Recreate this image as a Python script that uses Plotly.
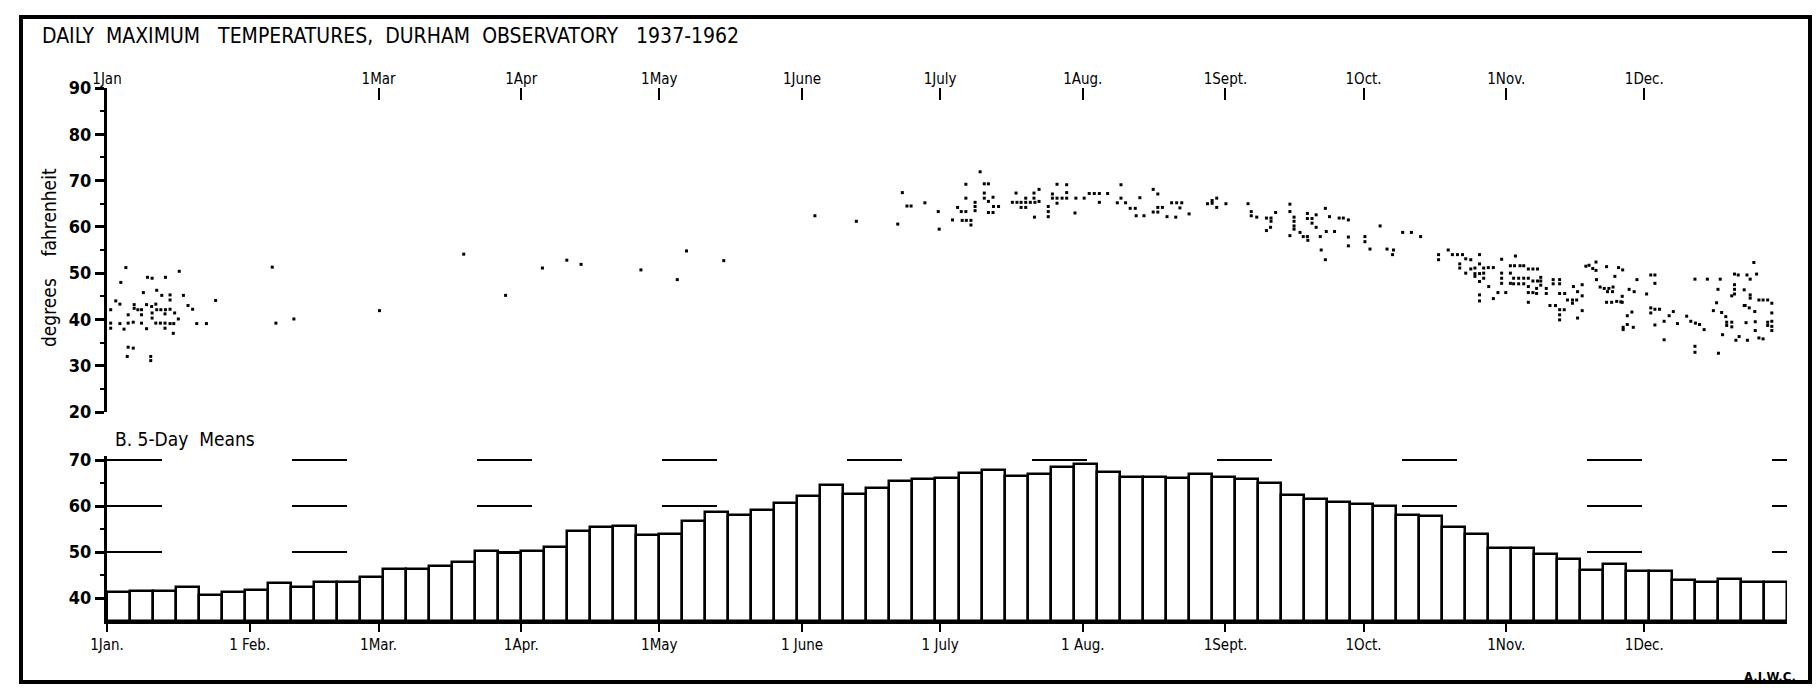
import plotly.graph_objects as go

W, H = 1820, 691
FONT = "Liberation Sans Narrow, DejaVu Sans Condensed, Arial Narrow, sans-serif"

# ---------------- data ----------------
MONTH_DAYS = [0, 31, 59, 90, 120, 151, 181, 212, 243, 273, 304, 334]
TOP_MONTH_LABELS = ["1Jan", None, "1Mar", "1Apr", "1May", "1June", "1July", "1Aug.",
                    "1Sept.", "1Oct.", "1Nov.", "1Dec."]
BOTTOM_MONTH_LABELS = ["1Jan.", "1 Feb.", "1Mar.", "1Apr.", "1May", "1 June", "1 July",
                       "1 Aug.", "1Sept.", "1Oct.", "1Nov.", "1Dec."]

FIVE_DAY_MEANS = [41.4, 41.6, 41.6, 42.5, 40.7, 41.4, 41.8, 43.2, 42.5, 43.4, 43.4, 44.5,
                  46.4, 46.4, 47.0, 47.8, 50.2, 49.7, 50.3, 51.1, 54.6, 55.4, 55.6, 53.7,
                  54.0, 56.8, 58.8, 58.1, 59.1, 60.6, 62.1, 64.6, 62.7, 63.9, 65.4, 66.0,
                  66.1, 67.3, 67.8, 66.6, 67.0, 68.6, 69.1, 67.4, 66.3, 66.3, 66.1, 67.0,
                  66.3, 66.0, 65.1, 62.5, 61.5, 61.0, 60.5, 60.0, 58.0, 57.9, 55.5, 54.0,
                  50.8, 50.8, 49.6, 48.4, 46.0, 47.3, 45.8, 45.8, 43.9, 43.5, 44.1, 43.5, 43.5]
PERIOD_DAYS = 5

DAY = [4.1, 3.0, 8.8, 9.8, 12.7, 15.7, 7.9, 10.8, 11.9, 13.7, 16.6, 13.7, 1.9, 2.8, 0.8,
       5.9, 5.9, 6.7, 7.5, 7.5, 8.6, 9.7, 10.6, 9.8, 9.8, 10.8, 11.7, 12.7, 13.7, 12.6,
       14.7, 15.5, 17.6, 18.6, 4.6, 4.6, 5.7, 0.8, 2.8, 0.8, 3.7, 7.5, 8.6, 10.6, 11.6,
       12.6, 13.7, 14.5, 12.6, 14.4, 19.5, 21.6, 4.6, 5.7, 4.4, 9.5, 9.5, 23.6, 35.9, 36.7,
       40.6, 59.2, 77.5, 86.6,
       94.6, 99.9, 103.0, 116.0, 123.9, 125.9, 134.0, 153.8, 162.8, 171.8, 172.8, 173.8,
       174.7, 177.7, 180.6, 180.8,
       183.7, 184.8, 185.6, 186.6, 185.8, 186.7, 187.7, 187.7, 186.6, 186.6, 188.6, 188.6,
       188.6, 189.7, 190.6, 191.5, 190.6, 190.6, 191.5, 192.5, 192.6, 193.7, 191.5, 192.5,
       197.5, 196.7, 197.7, 198.6, 199.6, 200.6, 201.6, 198.6, 199.6, 199.6, 201.4, 201.4,
       202.5, 202.5, 201.5, 204.5, 204.5, 204.5, 205.4, 205.4, 206.4, 207.5, 208.5, 210.5,
       206.4, 208.5, 208.5, 206.4, 210.3, 212.3, 213.4, 214.5, 215.6, 217.4, 215.6, 220.3,
       219.5, 221.3, 220.3, 222.3, 223.4, 223.6, 225.3, 224.4, 227.3, 228.3, 228.3, 229.3,
       227.3, 228.3, 230.3, 231.3, 232.4, 233.5, 232.2, 233.1, 235.1, 239.1, 240.1, 241.1,
       240.1, 241.1, 243.1, 247.9, 248.6, 248.6, 249.8, 251.9, 252.8, 251.9, 252.9, 252.9,
       253.9, 257.0, 257.0, 257.0, 257.9, 257.9, 257.9, 257.9, 259.2, 259.9, 260.8, 260.8,
       260.8, 260.9, 261.8, 261.8, 262.7, 262.7, 263.6, 263.8, 264.7, 264.7, 265.6, 264.9,
       266.7, 267.7, 268.6, 269.7, 269.7, 269.7,
       273.3, 273.3, 274.4, 276.6, 278.1, 279.5, 279.3, 281.5, 283.4, 285.4, 289.3, 289.3,
       291.4, 292.3, 293.4, 294.5, 293.9, 293.9, 295.2, 296.3, 295.2, 296.3, 297.2, 297.2,
       297.2, 298.2, 298.2, 298.2, 298.2, 299.1, 299.1, 300.1, 301.2, 300.2, 299.1, 298.2,
       298.2, 301.2, 303.0, 303.0, 303.0, 303.0, 302.2, 303.9, 304.9, 304.9, 304.9, 306.0,
       305.8, 307.0, 307.8, 305.6, 306.7, 307.8, 308.8, 305.6, 306.7, 307.8, 308.8, 309.8,
       310.8, 308.8, 308.8, 309.8, 308.8, 309.8, 310.8, 310.6, 310.6, 311.5, 311.5, 311.5,
       312.7, 312.7, 314.2, 314.2, 315.6, 315.6, 313.5, 314.7, 315.6, 316.7, 315.6, 315.6,
       316.6, 315.6, 317.3, 318.4, 318.4, 319.3, 318.6, 319.5, 319.5, 320.5, 320.5, 320.5,
       321.3, 322.0, 322.8, 323.5, 323.5, 323.6, 324.4, 325.3, 326.3, 327.2, 326.0, 327.1,
       325.8, 327.6, 328.4, 329.3, 325.8, 326.9, 328.0, 328.9, 329.2, 329.2, 329.4, 329.4,
       331.6, 330.3, 330.3, 330.7, 331.8, 331.3, 332.4, 334.5, 335.4, 336.3, 336.3, 335.4,
       335.4, 336.3, 337.3, 336.3, 338.3, 338.3, 339.4, 340.3, 341.2, 343.2, 344.1, 345.1,
       346.0, 347.0, 345.0, 345.0, 345.0, 347.7, 350.5, 350.0, 350.1, 349.7, 349.0, 350.8,
       351.7, 351.0, 351.9, 353.0, 351.9, 353.0, 353.0, 353.6, 354.4, 356.3, 358.4, 353.6,
       353.6, 353.6, 357.0, 355.7, 357.0, 357.0, 357.8, 355.9, 356.8, 358.0, 356.1, 358.1,
       358.1, 353.9, 354.6, 356.4, 358.9, 359.8, 360.8, 361.7, 361.7, 361.7, 361.7, 360.8,
       360.8, 358.9, 359.8, 361.7, 355.7]
TEMP = [51.2, 48.0, 49.1, 48.9, 49.1, 50.4, 45.8, 46.3, 45.2, 45.3, 45.2, 44.2, 44.0, 43.3,
        42.1, 43.2, 42.4, 42.1, 42.1, 41.0, 43.2, 42.8, 43.3, 41.4, 40.3, 42.1, 42.1, 42.1,
        42.2, 41.2, 41.4, 40.1, 43.0, 42.2, 41.0, 39.2, 39.4, 39.2, 39.1, 38.1, 37.9, 39.2,
        38.0, 39.2, 39.2, 39.2, 39.1, 39.1, 38.1, 37.0, 39.1, 39.1, 34.0, 33.8, 32.0, 32.0,
        31.1, 44.1, 51.3, 39.2, 40.1, 41.9, 54.1, 45.2,
        51.1, 52.8, 51.9, 50.7, 48.6, 54.8, 52.7, 62.4, 61.2, 60.6, 67.4, 64.5, 64.5, 65.2,
        63.3, 59.5,
        61.5, 64.2, 63.3, 63.3, 61.4, 61.4, 61.4, 60.4, 66.2, 69.2, 65.3, 64.4, 63.5, 71.9,
        69.3, 69.3, 67.3, 66.2, 65.5, 66.4, 64.4, 64.4, 63.1, 63.1, 67.3, 65.3, 65.3, 65.3,
        65.3, 65.3, 65.3, 64.2, 64.2, 66.2, 67.3, 66.2, 68.1, 65.5, 62.1, 64.4, 63.3, 62.2,
        67.1, 66.2, 66.2, 66.2, 66.2, 66.2, 69.2, 69.1, 67.4, 65.1, 63.0, 66.2, 67.2, 67.2,
        67.2, 67.2, 65.3, 69.1, 65.2, 65.2, 66.2, 64.0, 64.0, 62.4, 62.4, 66.3, 68.1, 67.1,
        64.2, 64.2, 63.2, 63.2, 62.2, 65.2, 65.2, 65.2, 62.1, 64.1, 62.8, 65.0, 65.7, 66.2,
        65.1, 64.2, 65.0, 65.0, 63.3, 62.4, 62.1, 61.9, 59.9, 59.2, 61.9, 61.2, 63.1, 64.9,
        63.3, 58.1, 62.1, 61.2, 60.2, 59.5, 58.8, 57.9, 57.9, 62.9, 61.8, 57.1, 61.8, 60.8,
        62.6, 59.9, 57.9, 55.0, 64.0, 52.9, 62.2, 59.0, 59.0, 61.9, 61.9, 61.5, 57.8, 55.9,
        57.9, 56.8, 55.2, 60.2, 55.2, 55.0, 54.0, 58.8, 58.8, 57.9, 54.0, 52.9, 55.0, 54.0,
        54.0, 54.0, 52.0, 51.1, 53.1, 52.9, 50.0, 50.9, 51.1, 49.9, 49.3, 54.0, 52.0, 49.9,
        48.2, 51.1, 50.0, 51.2, 51.2, 47.1, 48.9, 45.3, 44.0, 44.5, 53.0, 50.0, 48.9, 47.8,
        45.8, 45.8, 51.6, 50.0, 47.8, 53.7, 51.6, 51.6, 51.6, 48.9, 48.9, 48.9, 48.9, 47.7,
        47.7, 47.7, 50.9, 50.9, 50.9, 47.1, 45.8, 45.8, 43.7, 48.3, 48.3, 45.6, 46.7, 49.1,
        48.3, 47.4, 46.7, 45.6, 48.6, 47.7, 48.6, 47.7, 43.0, 43.0, 45.6, 45.6, 42.1, 41.0,
        42.1, 39.9, 44.2, 44.2, 43.5, 44.2, 47.1, 46.0, 40.3, 47.5, 45.1, 41.9, 51.5, 51.7,
        51.0, 52.4, 50.6, 48.6, 47.0, 46.7, 46.7, 47.0, 46.0, 46.0, 51.4, 49.3, 51.2, 50.7,
        43.7, 43.7, 43.9, 43.8, 45.0, 43.7, 38.3, 37.8, 38.3, 40.8, 38.9, 46.5, 46.0, 41.6,
        48.6, 45.5, 49.6, 49.6, 47.8, 42.5, 41.4, 42.2, 42.2, 38.8, 39.6, 35.6, 40.8, 41.7,
        39.1, 40.7, 39.6, 39.2, 38.9, 37.8, 34.2, 32.9, 48.7, 48.7, 48.7, 46.5, 32.7, 43.6,
        41.9, 41.5, 40.6, 36.7, 39.4, 39.4, 38.7, 38.4, 45.1, 49.8, 49.6, 49.6, 49.8, 47.5,
        46.5, 45.5, 48.7, 46.4, 45.3, 44.6, 52.3, 43.0, 42.5, 41.7, 39.3, 39.5, 37.6, 35.5,
        36.3, 35.5, 36.0, 35.8, 44.2, 43.5, 41.4, 39.6, 38.5, 39.4, 38.7, 44.2, 44.2, 37.6,
        43.0]

# ---------------- helpers for layout (pixel -> paper) ----------------
def px(x):
    return x / W

def py(y):
    return 1 - y / H

X_DOM = [px(107), px(1787)]

bar_x = [PERIOD_DAYS * i + PERIOD_DAYS / 2 for i in range(len(FIVE_DAY_MEANS))]
bar_base = 35

fig = go.Figure()

fig.add_trace(go.Scatter(
    x=DAY, y=TEMP, mode="markers",
    marker=dict(symbol="square", size=3, color="black", line=dict(width=0)),
    xaxis="x", yaxis="y", hoverinfo="x+y", showlegend=False))

fig.add_trace(go.Bar(
    x=bar_x, y=[v - bar_base for v in FIVE_DAY_MEANS], base=bar_base,
    width=PERIOD_DAYS,
    marker=dict(color="white", line=dict(color="black", width=2.5)),
    xaxis="x2", yaxis="y2", showlegend=False,
    customdata=FIVE_DAY_MEANS, hovertemplate="%{customdata}<extra></extra>"))

top_vals = [d for d, t in zip(MONTH_DAYS, TOP_MONTH_LABELS) if t]
top_text = [t for t in TOP_MONTH_LABELS if t]

tickfont = dict(family=FONT, size=15, color="black")
numfont = dict(family=FONT, size=18, color="black", weight=700)

fig.update_layout(
    width=W, height=H,
    margin=dict(l=0, r=0, t=0, b=0, autoexpand=False),
    paper_bgcolor="white", plot_bgcolor="rgba(0,0,0,0)",
    bargap=0,
    xaxis=dict(domain=X_DOM, range=[0, 365], anchor="y", side="top", automargin=False,
               tickmode="array", tickvals=top_vals, ticktext=top_text,
               ticks="inside", ticklen=12, tickwidth=2, tickcolor="black",
               showline=False, showgrid=False, zeroline=False,
               tickfont=dict(family=FONT, size=15, color="black")),
    yaxis=dict(domain=[py(412), py(88)], range=[20, 90], anchor="x", automargin=False,
               tickmode="linear", tick0=20, dtick=10,
               ticks="outside", ticklen=9, tickwidth=2.5, tickcolor="black",
               minor=dict(dtick=5, tick0=20, ticks="outside", ticklen=4, tickwidth=2,
                          tickcolor="black", showgrid=False),
               showline=True, linewidth=3, linecolor="black",
               showgrid=False, zeroline=False, tickfont=numfont),
    xaxis2=dict(domain=X_DOM, range=[0, 365], anchor="y2", automargin=False,
                tickmode="array", tickvals=MONTH_DAYS, ticktext=BOTTOM_MONTH_LABELS,
                ticks="outside", ticklen=8, tickwidth=2, tickcolor="black",
                showline=True, linewidth=3, linecolor="black",
                showgrid=False, zeroline=False, tickfont=tickfont),
    yaxis2=dict(domain=[py(621), py(456)], range=[35, 70.9], anchor="x2", automargin=False,
                tickmode="array", tickvals=[40, 50, 60, 70],
                ticks="outside", ticklen=9, tickwidth=2.5, tickcolor="black",
                minor=dict(tickvals=[45, 55, 65], ticks="outside", ticklen=4,
                           tickwidth=2, tickcolor="black", showgrid=False),
                showline=True, linewidth=3, linecolor="black",
                showgrid=True, gridcolor="black", gridwidth=1.5, griddash="55px,130px",
                zeroline=False, tickfont=numfont),
)

fig.add_annotation(xref="paper", yref="paper", x=px(40), y=py(36),
                   xanchor="left", yanchor="middle", showarrow=False,
                   text="DAILY  MAXIMUM   TEMPERATURES,  DURHAM  OBSERVATORY   1937-1962",
                   font=dict(family=FONT, size=21, color="black"))
fig.add_annotation(xref="paper", yref="paper", x=px(49), y=py(258),
                   xanchor="center", yanchor="middle", showarrow=False, textangle=-90,
                   text="degrees    fahrenheit",
                   font=dict(family=FONT, size=19, color="black"))
fig.add_annotation(xref="paper", yref="paper", x=px(113), y=py(439),
                   xanchor="left", yanchor="middle", showarrow=False,
                   text="B. 5-Day  Means",
                   font=dict(family=FONT, size=19, color="black"))
fig.add_annotation(xref="paper", yref="paper", x=px(1798), y=py(676),
                   xanchor="right", yanchor="middle", showarrow=False,
                   text="A.J.W.C.",
                   font=dict(family=FONT, size=13, color="black", weight=700))

# outer frame of the drawing
fig.add_shape(type="rect", xref="paper", yref="paper",
              x0=px(21), x1=px(1810), y0=py(682), y1=py(17),
              line=dict(color="black", width=4), fillcolor="rgba(0,0,0,0)", layer="above")

fig.write_html("out.html", config={"displayModeBar": False},
               post_script="document.body.style.margin='0px';document.body.style.overflow='hidden';")
